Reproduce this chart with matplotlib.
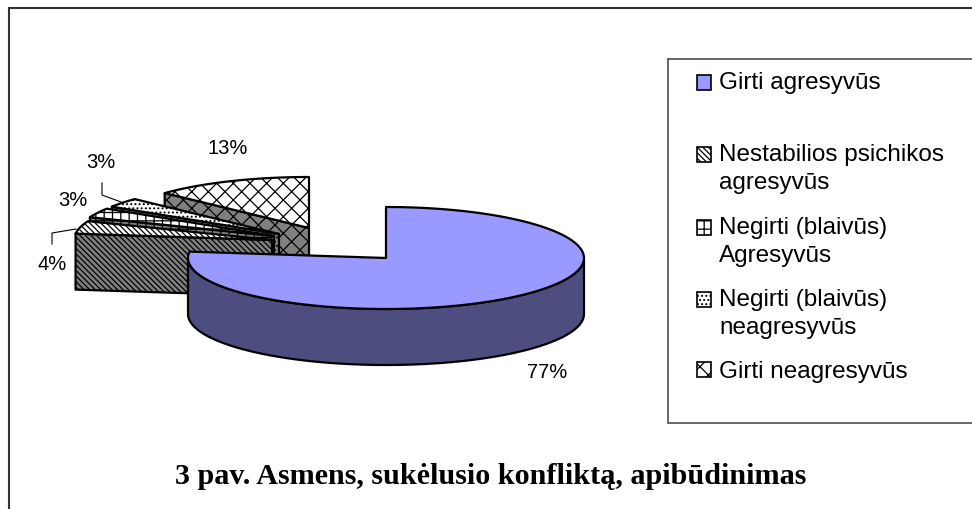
import numpy as np
import matplotlib
matplotlib.use("Agg")
import matplotlib.pyplot as plt
from matplotlib.patches import Polygon, Patch, Rectangle

# --- data ---
categories = ["Girti agresyvūs\n", "Nestabilios psichikos\nagresyvūs", "Negirti (blaivūs)\nAgresyvūs",
              "Negirti (blaivūs)\nneagresyvūs", "Girti neagresyvūs"]
shares = [77, 4, 3, 3, 13]
title = "3 pav. Asmens, sukėlusio konfliktą, apibūdinimas"

# --- style / layout ---
W, H = 972, 509
centers = [(386, 258), (272, 240), (274, 236), (279, 234), (309, 228)]
RX, RY, DEPTH = 198, 51, 56
top_colors = ["#9999FF", "white", "white", "white", "white"]
wall_colors = ["#4D4D80", "#808080", "#808080", "#808080", "#808080"]
hatches = [None, "\\\\\\\\\\\\", "++", "....", "xx"]
label_pos = [(547, 372), (52, 265), (73, 201), (101, 163), (228, 148)]

plt.rcParams["font.family"] = ["Liberation Sans", "DejaVu Sans"]
plt.rcParams["hatch.linewidth"] = 0.9
fig = plt.figure(figsize=(W / 100, H / 100), dpi=100)
ax = fig.add_axes([0, 0, 1, 1])
ax.set_xlim(0, W)
ax.set_ylim(H, 0)
ax.axis("off")

total = sum(shares)
edges = np.cumsum([0] + shares) / total * 2 * np.pi


def rim(c, a):
    return np.column_stack([c[0] + RX * np.sin(a), c[1] - RY * np.cos(a)])


def add(poly, color, hatch, z):
    ax.add_patch(Polygon(poly, closed=True, facecolor=color, edgecolor="black",
                         hatch=hatch, lw=1.6, joinstyle="round", zorder=z))


# back to front: small wedges in reverse order, the big one last
for i in [4, 3, 2, 1, 0]:
    c = np.array(centers[i], float)
    a0, a1 = edges[i], edges[i + 1]
    a = np.linspace(a0, a1, 120)
    z = 10 - i
    if i == 0:
        wa = np.linspace(np.pi / 2, min(a1, 1.5 * np.pi), 120)
        r = rim(c, wa)
        wall = np.vstack([r, (r + [0, DEPTH])[::-1]])
    else:
        p = rim(c, np.array([a0]))[0]
        wall = np.array([p, c, c + [0, DEPTH], p + [0, DEPTH]])
    add(wall, wall_colors[i], hatches[i], z)
    add(np.vstack([c, rim(c, a)]), top_colors[i], hatches[i], z + 0.1)

# percentage labels
for v, (x, y) in zip(shares, label_pos):
    ax.text(x, y, f"{v}%", fontsize=14.5, ha="center", va="center", color="black", zorder=20)

# leader lines
ax.plot([102, 102, 121], [183, 195, 202], color="black", lw=0.8, zorder=20)
ax.plot([52, 52, 76], [244, 233, 229], color="black", lw=0.8, zorder=20)

# outer chart frame
ax.plot([9, 9, W], [H, 8, 8], color="#333333", lw=1.5, zorder=1, solid_joinstyle="miter")

# legend frame and legend
ax.add_patch(Rectangle((668, 59), 320, 364, facecolor="white", edgecolor="#666666", lw=1.4, zorder=1))
handles = [Patch(facecolor=top_colors[i], edgecolor="black", hatch=hatches[i], lw=1.2) for i in range(5)]
leg = ax.legend(handles, categories, loc="upper left", bbox_to_anchor=(692 / W, 1 - 67 / H),
                frameon=False, fontsize=17.5, labelspacing=0.92, handlelength=0.58, handleheight=0.58,
                handletextpad=0.34, borderaxespad=0, borderpad=0.2, labelcolor="black")
LINE_STEP_PT = 29 * 0.72
for t, h, lab in zip(leg.get_texts(), leg.get_patches(), categories):
    t.set_linespacing(1.355)
    h.set_y(h.get_y() + lab.count("\n") * LINE_STEP_PT / 2)

# title
ax.text(491, 477, title, fontsize=21.7, fontweight="bold", family="Liberation Serif",
        ha="center", va="center", color="black", zorder=20)

fig.savefig("out.png", dpi=100)
